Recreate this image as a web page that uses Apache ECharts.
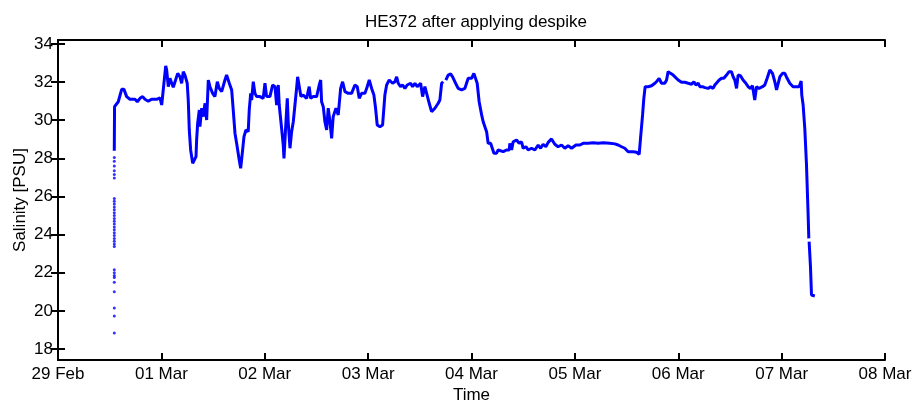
<!DOCTYPE html>
<html>
<head>
<meta charset="utf-8">
<script src="https://cdn.jsdelivr.net/npm/echarts@6/dist/echarts.min.js"></script>
<style>html,body{margin:0;padding:0;background:#fff}#c{width:915px;height:403px}</style>
</head>
<body>
<div id="c"></div>
<script>
// x values: days since 29 Feb 2012 00:00
const xTickLabels = ['29 Feb','01 Mar','02 Mar','03 Mar','04 Mar','05 Mar','06 Mar','07 Mar','08 Mar'];
const yTickValues = [18,20,22,24,26,28,30,32,34];

const lineDays = [
0.5445,0.547,0.583,0.600,0.616,0.638,0.664,0.696,0.745,0.767,0.793,0.819,0.841,0.873,0.906,0.955,0.986,1.003,1.018,
1.042,1.051,1.067,1.083,1.100,1.115,1.132,1.158,1.180,1.196,1.212,1.228,1.250,1.260,1.270,1.283,1.303,1.318,1.335,
1.341,1.351,1.367,1.373,1.390,1.405,1.422,1.438,1.454,1.470,1.496,1.518,1.541,1.560,1.583,1.615,1.631,1.657,1.680,
1.695,1.712,1.728,1.753,1.767,1.786,1.799,1.818,1.840,1.850,1.864,1.873,1.889,1.905,1.922,1.954,1.985,2.002,2.018,
2.050,2.076,2.099,2.115,2.131,2.140,2.163,2.179,2.186,2.205,2.218,2.227,2.244,2.260,2.276,2.292,2.308,2.318,2.334,
2.350,2.372,2.405,2.430,2.444,2.469,2.502,2.527,2.541,2.550,2.566,2.582,2.599,2.614,2.631,2.647,2.662,2.689,2.711,
2.734,2.753,2.776,2.808,2.840,2.872,2.895,2.914,2.937,2.969,2.991,3.011,3.034,3.056,3.072,3.088,3.114,3.140,3.162,
3.179,3.204,3.237,3.259,3.276,3.291,3.314,3.334,3.356,3.378,3.397,3.411,3.430,3.453,3.475,3.494,3.508,3.527,3.549,
3.566,3.591,3.614,3.630,3.646,3.678,3.694,3.711,3.726,3.740,3.752,3.774,3.798,3.817,3.839,3.871,3.904,3.936,3.952,
3.968,4.001,4.023,4.040,4.055,4.074,4.098,4.113,4.130,4.146,4.161,4.185,4.200,4.217,4.243,4.258,4.275,4.307,4.339,
4.365,4.371,4.388,4.403,4.420,4.436,4.461,4.484,4.500,4.526,4.548,4.581,4.613,4.645,4.668,4.693,4.719,4.742,4.774,
4.806,4.838,4.871,4.903,4.935,4.968,5.010,5.048,5.080,5.129,5.177,5.225,5.274,5.338,5.387,5.419,5.452,5.483,5.515,
5.564,5.597,5.622,5.635,5.655,5.667,5.680,5.709,5.742,5.774,5.796,5.815,5.838,5.870,5.887,5.902,5.925,5.951,5.967,
5.999,6.032,6.064,6.096,6.129,6.151,6.170,6.193,6.209,6.235,6.257,6.289,6.312,6.337,6.354,6.370,6.396,6.419,6.441,
6.467,6.492,6.515,6.531,6.547,6.564,6.579,6.602,6.627,6.654,6.676,6.699,6.718,6.740,6.757,6.782,6.815,6.837,6.860,
6.886,6.912,6.934,6.951,6.966,6.983,7.009,7.031,7.053,7.079,7.111,7.144,7.169,7.189,7.195,7.208,7.224,7.240,7.256,
7.263,7.265,7.266,7.279,7.289,7.305,7.321
];
const lineSalinity = [
28.40,30.71,30.97,31.06,31.62,31.62,31.24,31.10,31.10,30.97,31.15,31.24,31.10,31.00,31.10,31.10,31.18,30.80,30.89,
32.85,32.64,31.76,32.20,31.94,31.73,32.02,32.46,32.28,31.94,32.55,32.37,31.94,31.06,29.49,28.44,27.74,27.70,28.09,
28.96,29.84,30.54,29.66,30.63,30.19,30.89,30.01,32.11,31.76,31.41,31.24,32.02,31.67,31.50,32.11,32.37,31.94,31.59,
30.54,29.32,28.79,27.91,27.48,28.44,29.14,29.49,29.40,30.54,31.41,31.06,32.02,31.41,31.24,31.24,31.15,31.94,31.24,
31.24,31.85,31.76,30.80,31.85,30.80,29.58,28.70,28.00,29.92,31.15,29.92,28.53,29.40,29.92,30.80,31.67,32.28,32.20,
31.24,31.32,31.15,31.76,31.15,31.24,31.24,31.85,32.11,30.97,30.71,29.92,29.49,30.63,29.92,29.05,30.19,30.63,30.28,
31.67,32.02,31.50,31.41,31.41,31.85,31.76,31.15,31.41,31.41,31.76,32.11,31.67,31.32,30.63,29.75,29.66,29.75,31.32,
31.85,32.11,31.94,32.02,32.28,31.94,31.76,31.85,31.67,31.85,31.76,31.94,31.76,31.94,31.76,31.85,31.94,31.24,31.76,
31.41,30.89,30.45,30.36,30.63,30.89,31.06,31.94,32.02,null,32.11,32.37,32.43,32.28,32.02,31.67,31.59,31.67,31.94,
32.20,32.20,32.46,32.46,31.94,30.97,30.28,29.92,29.92,29.40,28.79,28.79,28.87,28.27,28.27,28.44,28.35,28.35,28.44,
28.44,28.79,28.44,28.87,28.79,28.96,28.79,28.87,28.53,28.61,28.44,28.53,28.44,28.70,28.53,28.74,28.61,28.84,29.02,
28.74,28.61,28.70,28.53,28.67,28.53,28.70,28.70,28.79,28.79,28.82,28.79,28.82,28.79,28.76,28.70,28.61,28.53,28.35,
28.35,28.32,28.21,29.05,30.28,31.15,31.76,31.76,31.81,31.94,32.06,32.20,31.94,31.94,32.11,32.55,32.46,32.37,32.37,
32.11,31.99,31.99,31.94,31.89,32.02,31.85,31.94,31.76,31.76,31.71,31.67,31.76,31.67,31.85,31.76,32.11,32.20,32.20,
32.37,32.55,32.55,32.28,32.11,31.67,32.37,32.34,32.11,31.94,31.76,31.67,31.81,31.06,31.76,31.67,31.76,31.85,32.20,
32.64,32.46,32.02,31.59,31.67,32.28,32.46,32.46,32.20,31.94,31.76,31.76,31.76,32.06,31.32,30.80,29.58,27.74,25.12,
23.80,null,23.63,22.32,20.83,20.74,20.78
];

// isolated despiked samples at the start of the record
const dotDays = [0.5445,0.5445,0.5445,0.5445,0.5445,0.5445,0.5445,0.5445,0.5445,0.5445,0.5445,0.5445,0.5445,0.5445,0.5445,0.5445,
0.5445,0.5445,0.5445,0.5445,0.5445,0.5445,0.5445,0.5445,0.5445,0.5445,0.5445,0.5445,0.5445,0.5445,0.5445,0.5445,0.5445];
const dotSalinity = [28.05,27.85,27.60,27.35,27.15,26.97,25.90,25.75,25.60,25.45,25.30,25.15,25.00,24.85,24.70,24.55,
24.40,24.25,24.10,23.95,23.80,23.65,23.50,23.38,22.15,22.00,21.85,21.75,21.50,21.00,20.15,19.73,18.84];

const lineData = lineDays.map((d, i) => [d, lineSalinity[i] === null ? '-' : lineSalinity[i]]);
const dotData = dotDays.map((d, i) => [d, dotSalinity[i]]);

const FONT = 'Liberation Sans, Arial, sans-serif';
const FS = 17;
const axisLineStyle = { lineStyle: { color: '#000', width: 2 } };
const tickStyle = { inside: true, length: 7, lineStyle: { color: '#000', width: 2 } };

const chart = echarts.init(document.getElementById('c'), null, { renderer: 'canvas' });
chart.setOption({
  animation: false,
  backgroundColor: '#fff',
  title: {
    text: 'HE372 after applying despike',
    left: 471, top: 9, textAlign: 'center',
    textStyle: { fontFamily: FONT, fontSize: FS, fontWeight: 'normal', color: '#000' }
  },
  grid: { left: 58, right: 30, top: 40, bottom: 43, containLabel: false, outerBoundsMode: 'none' },
  xAxis: [{
    type: 'value', min: 0, max: 8, interval: 1, position: 'bottom',
    name: 'Time', nameLocation: 'middle', nameGap: 27, nameMoveOverlap: false,
    nameTextStyle: { fontFamily: FONT, fontSize: FS, color: '#000' },
    axisLine: axisLineStyle, axisTick: tickStyle,
    axisLabel: { fontFamily: FONT, fontSize: FS, color: '#000', margin: 6,
      formatter: v => xTickLabels[Math.round(v)] },
    splitLine: { show: false }
  }, {
    type: 'value', min: 0, max: 8, interval: 1, position: 'top',
    axisLine: axisLineStyle, axisTick: tickStyle,
    axisLabel: { show: false }, splitLine: { show: false }
  }],
  yAxis: [{
    type: 'value', min: 17.42, max: 34.21, position: 'left',
    name: 'Salinity [PSU]', nameLocation: 'middle', nameGap: 29, nameRotate: 90, nameMoveOverlap: false,
    nameTextStyle: { fontFamily: FONT, fontSize: FS, color: '#000' },
    axisLine: axisLineStyle,
    axisTick: Object.assign({ customValues: yTickValues }, tickStyle),
    axisLabel: { customValues: yTickValues, fontFamily: FONT, fontSize: FS, color: '#000', margin: 5 },
    splitLine: { show: false }
  }, {
    type: 'value', min: 17.42, max: 34.21, position: 'right',
    axisLine: axisLineStyle,
    axisTick: Object.assign({ customValues: yTickValues }, tickStyle),
    axisLabel: { show: false }, splitLine: { show: false }
  }],
  series: [{
    type: 'line', data: lineData, xAxisIndex: 0, yAxisIndex: 0,
    showSymbol: false, connectNulls: false,
    lineStyle: { color: '#0000ff', width: 3 }, itemStyle: { color: '#0000ff' }
  }, {
    type: 'scatter', data: dotData, xAxisIndex: 0, yAxisIndex: 0,
    symbolSize: 3, itemStyle: { color: '#0000ff' }
  }]
});
</script>
</body>
</html>
